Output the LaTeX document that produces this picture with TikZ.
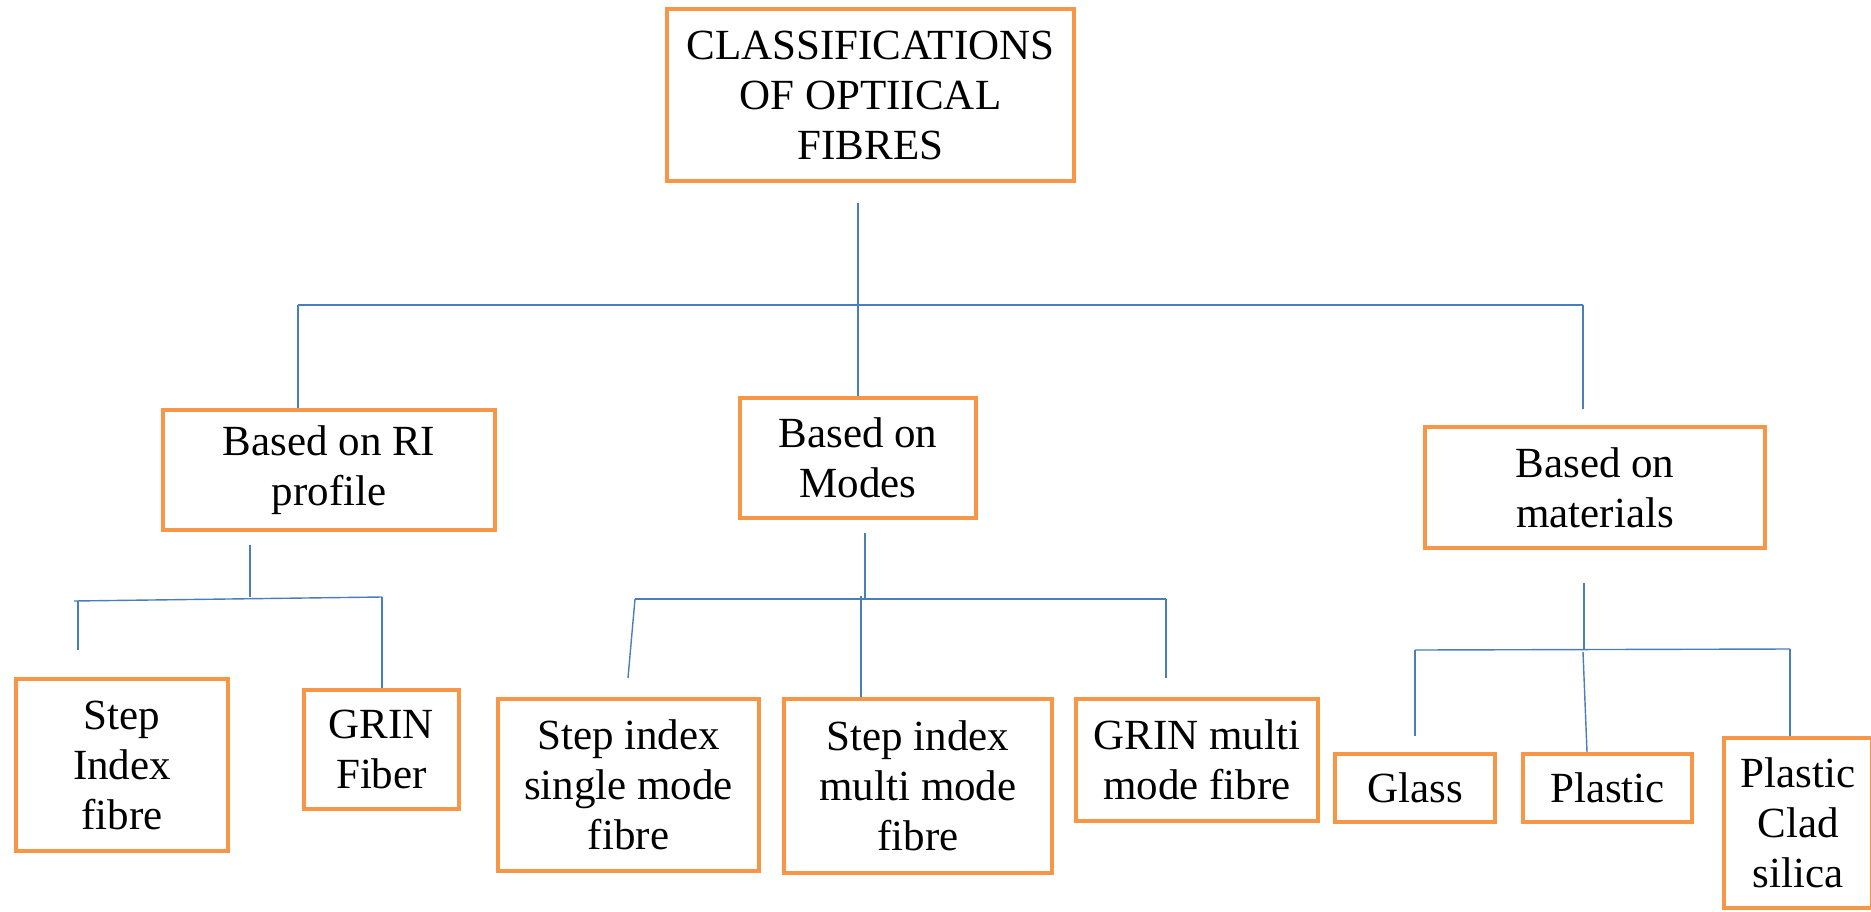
\documentclass[tikz,border=0pt]{standalone}
\usepackage{fontspec}
\setmainfont{Liberation Serif}
\usetikzlibrary{positioning,calc}
\definecolor{fibreorange}{HTML}{F79646}
\definecolor{fibreblue}{HTML}{4A7EBB}

\begin{document}
\begin{tikzpicture}[x=1pt, y=-1pt,
  box/.style={draw=fibreorange, line width=4pt, align=center, inner sep=0pt,
    font=\fontsize{43}{50}\selectfont},
  boxsize/.style 2 args={minimum width=#1pt, minimum height=#2pt},
  link/.style={draw=fibreblue, line width=1.4pt}]
  \clip (0,0) rectangle (1871,911);
  \node [box, boxsize={407}{172}] (root) at (870.5,95) {CLASSIFICATIONS\\OF OPTIICAL\\FIBRES};
  \node [box, boxsize={332}{120}] (ri) at (329,470) {Based on RI\\profile};
  \node [box, boxsize={236}{120}] (modes) at (858,458) {Based on\\Modes};
  \node [box, boxsize={340}{121}] (mat) at (1595,487.5) {Based on\\materials};
  \node [box, boxsize={212}{172}] (stepidx) at (122,765) {Step\\Index\\fibre};
  \node [box, boxsize={155}{119}] (grin) at (381.5,749.5) {GRIN\\Fiber};
  \node [box, boxsize={261}{172}] (sism) at (628.5,785) {Step index\\single mode\\fibre};
  \node [box, boxsize={268}{174}] (simm) at (918,786) {Step index\\multi mode\\fibre};
  \node [box, boxsize={242}{122}] (grinmm) at (1197,760) {GRIN multi\\mode fibre};
  \node [box, boxsize={160}{68}] (glass) at (1415,788) {Glass};
  \node [box, boxsize={169}{68}] (plastic) at (1607.5,788) {Plastic};
  \node [box, boxsize={148}{170}] (clad) at (1798,823) {Plastic\\Clad\\silica};

  \coordinate (rootfoot) at (858,203);
  \coordinate (mainL) at (298,305);
  \coordinate (mainR) at (1583,305);
  \coordinate (matup) at (1583,409);
  \draw [link] (rootfoot) -- (rootfoot |- mainL);
  \draw [link, line width=2pt] (mainL) -- (mainR);
  \draw [link] (mainL) -- (mainL |- ri.north);
  \draw [link] (rootfoot |- mainL) -- (rootfoot |- modes.north);
  \draw [link] (mainR) -- (matup);

  \coordinate (rifoot) at (250,545);
  \coordinate (riL) at (74,601);
  \coordinate (riR) at (382,597);
  \coordinate (stepup) at (78,650);
  \draw [link] (rifoot) -- (rifoot |- riR);
  \draw [link] (riL) -- (riR);
  \draw [link] (stepup |- riL) -- (stepup);
  \draw [link] (riR) -- (riR |- grin.north);

  \coordinate (modesfoot) at (865,533);
  \coordinate (modesL) at (635,599);
  \coordinate (modesR) at (1166,599);
  \coordinate (sismup) at (628,678);
  \coordinate (simmjoin) at (861,596);
  \coordinate (grinmmup) at (1166,678);
  \draw [link] (modesfoot) -- (modesfoot |- modesL);
  \draw [link] (modesL) -- (modesR);
  \draw [link] (modesL) -- (sismup);
  \draw [link] (simmjoin) -- (simmjoin |- simm.north);
  \draw [link] (modesR) -- (grinmmup);

  \coordinate (matfoot) at (1584,583);
  \coordinate (matL) at (1415,650);
  \coordinate (matR) at (1790,649);
  \coordinate (glassup) at (1415,736);
  \coordinate (plasticjoin) at (1583,652);
  \coordinate (plasticup) at (1587,752);
  \draw [link] (matfoot) -- (matfoot |- matL);
  \draw [link] (matL) -- (matR);
  \draw [link] (matL) -- (glassup);
  \draw [link] (plasticjoin) -- (plasticup);
  \draw [link] (matR) -- (matR |- clad.north);
\end{tikzpicture}
\end{document}
